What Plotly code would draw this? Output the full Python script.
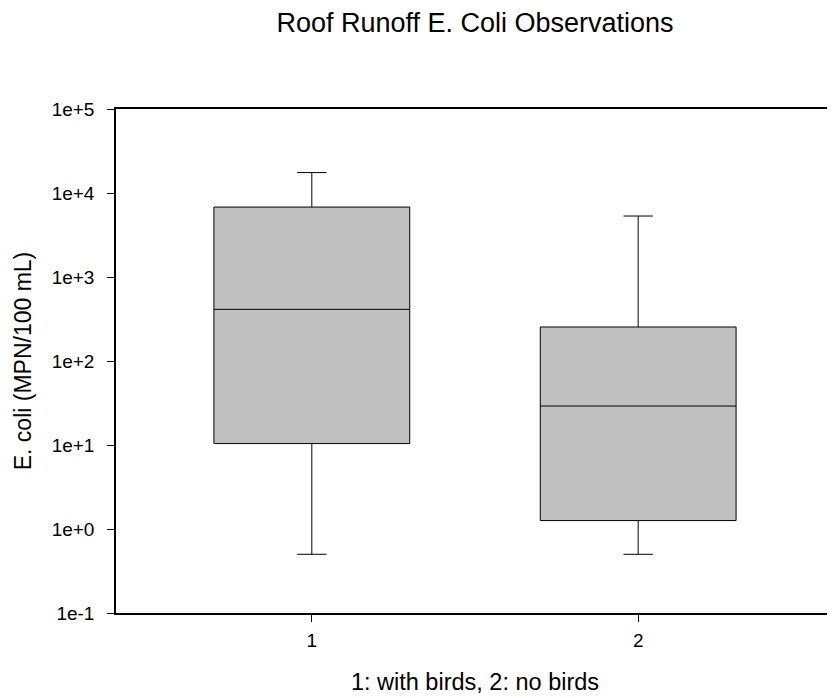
import plotly.graph_objects as go

# Data
groups = [1, 2]
lower_whisker = [0.5, 0.5]
q1_vals = [10.4, 1.26]
median_vals = [412, 29.1]
q3_vals = [6800, 254]
upper_whisker = [17500, 5320]

y_tickvals = [0.1, 1, 10, 100, 1000, 10000, 100000]
y_ticktext = ["1e-1", "1e+0", "1e+1", "1e+2", "1e+3", "1e+4", "1e+5"]
x_tickvals = [1, 2]
x_ticktext = ["1", "2"]

FONT = "Liberation Sans, Arial, sans-serif"

fig = go.Figure()
fig.add_trace(go.Box(
    x=groups,
    lowerfence=lower_whisker,
    q1=q1_vals,
    median=median_vals,
    q3=q3_vals,
    upperfence=upper_whisker,
    width=0.6,
    whiskerwidth=0.15,
    fillcolor="#c0c0c0",
    line=dict(color="black", width=1),
    boxpoints=False,
    showlegend=False,
    hoverinfo="skip",
))

fig.update_layout(
    width=827, height=690,
    margin=dict(l=108, r=1, t=101, b=85),
    paper_bgcolor="white", plot_bgcolor="white",
    font=dict(family=FONT, color="black"),
    title=dict(
        text="Roof Runoff E. Coli Observations",
        font=dict(size=27, family=FONT, color="black"),
        x=(475 - 8) / 827, xanchor="center",
        yref="container", y=1 - 15 / 690, yanchor="middle",
    ),
    xaxis=dict(
        range=[0.4, 2.6],
        tickvals=x_tickvals, ticktext=x_ticktext,
        ticks="outside", ticklen=7, tickwidth=1, tickcolor="black",
        showline=True, linecolor="black", linewidth=1.5,
        mirror=True,
        showgrid=False, zeroline=False,
        tickfont=dict(size=19, family=FONT),
        ticklabelstandoff=2,
        title=dict(text="1: with birds, 2: no birds",
                   font=dict(size=23.5, family=FONT), standoff=24),
    ),
    yaxis=dict(
        type="log",
        range=[-1, 5],
        tickvals=y_tickvals, ticktext=y_ticktext,
        ticks="outside", ticklen=7, tickwidth=1, tickcolor="black",
        showline=True, linecolor="black", linewidth=1.5,
        showgrid=False, zeroline=False,
        tickfont=dict(size=19, family=FONT),
        ticklabelstandoff=9,
        title=dict(text="E. coli (MPN/100 mL)",
                   font=dict(size=23, family=FONT), standoff=14),
    ),
)

# right frame edge in grey
fig.add_shape(type="line", xref="paper", yref="paper",
              x0=1, x1=1, y0=0, y1=1,
              line=dict(color="#808080", width=1))

fig.write_html("out.html")
